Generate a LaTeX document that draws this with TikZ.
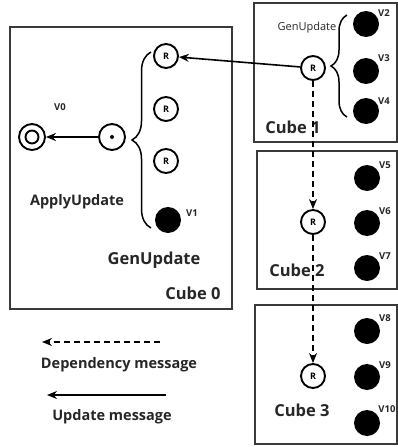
\documentclass[tikz,border=0pt]{standalone}
\usepackage{fontspec}
\setmainfont{Open Sans}
\usetikzlibrary{arrows.meta,decorations.pathreplacing}
\definecolor{boxgray}{HTML}{3A3A3A}
\definecolor{txt}{HTML}{262626}
\begin{document}
\begin{tikzpicture}[x=1pt,y=-1pt,
  cube/.style={draw=boxgray, line width=1.5pt},
  rnode/.style={circle, draw, line width=1.9pt, minimum size=24pt, inner sep=0pt, font=\bfseries\fontsize{9}{9}\selectfont},
  ocirc/.style={circle, draw, line width=1.9pt, minimum size=26pt, inner sep=0pt},
  vnode/.style={circle, fill=black, minimum size=26pt, inner sep=0pt},
  vlab/.style={text=txt, font=\bfseries\fontsize{9.5}{9.5}\selectfont, inner sep=0pt},
  big/.style={text=txt, font=\bfseries\fontsize{16.5}{16.5}\selectfont, inner sep=0pt},
  mid/.style={text=txt, font=\bfseries\fontsize{14.5}{14.5}\selectfont, inner sep=0pt},
  msg/.style={line width=1.6pt, -{Stealth[length=10pt,width=8pt]}},
  dep/.style={line width=1.4pt, dash pattern=on 6pt off 4pt, -{Stealth[length=10pt,width=8pt]}},
  brc/.style={line width=1.5pt, decorate, decoration={brace, amplitude=#1}}
]
\useasboundingbox (0,0) rectangle (398,447);
% boxes
\draw[cube] (10,27) rectangle (232,309);
\draw[cube] (254,3) rectangle (397,142);
\draw[cube] (257,151) rectangle (397,289);
\draw[cube] (255,305) rectangle (397,444);

% Cube 0
\node[ocirc] (v0) at (32,137) {};
\node[circle, draw, line width=1.9pt, minimum size=13pt, inner sep=0pt] (v0in) at (v0.center) {};
\node[vlab] (v0l) at (60,107) {V0};
\node[ocirc] (dot) at (112,137) {};
\node[circle, fill=black, minimum size=4pt, inner sep=0pt] (dotc) at (dot.center) {};
\draw[brc=19pt] (151,228) -- (151,52);
\node[rnode] (r0a) at (166,56) {R};
\node[rnode] (r0b) at (166,109) {R};
\node[rnode] (r0c) at (166,161) {R};
\node[vnode] (v1) at (168,220) {};
\node[vlab] (v1l) at (192,213) {V1};
\node[mid] (apply) at (77,202) {ApplyUpdate};
\node[big] (gen0) at (154,260) {GenUpdate};
\node[big] (c0) at (193,293) {Cube 0};

% Cube 1
\node[rnode] (r1) at (313,68) {R};
\draw[brc=16pt] (347,117) -- (347,15);
\node[vnode] (v2) at (366,24) {};
\node[vnode] (v3) at (366,71) {};
\node[vnode] (v4) at (366,111) {};
\node[vlab] (v2l) at (384,13) {V2};
\node[vlab] (v3l) at (384,58) {V3};
\node[vlab] (v4l) at (384,101) {V4};
\node[text=txt, font=\fontsize{11}{11}\selectfont, inner sep=0pt] (gen1) at (307,28) {GenUpdate};
\node[big] (c1) at (293,127) {Cube 1};

% Cube 2
\node[rnode] (r2) at (313,222) {R};
\node[vnode] (v5) at (367,178) {};
\node[vnode] (v6) at (367,223) {};
\node[vnode] (v7) at (367,268) {};
\node[vlab] (v5l) at (385,165) {V5};
\node[vlab] (v6l) at (385,211) {V6};
\node[vlab] (v7l) at (385,256) {V7};
\node[big] (c2) at (297,270) {Cube 2};

% Cube 3
\node[rnode] (r3) at (313,376) {R};
\node[vnode] (v8) at (367,331) {};
\node[vnode] (v9) at (367,377) {};
\node[vnode] (v10) at (367,423) {};
\node[vlab] (v8l) at (385,318) {V8};
\node[vlab] (v9l) at (385,365) {V9};
\node[vlab] (v10l) at (387,409) {V10};
\node[big] (c3) at (302,410) {Cube 3};

% connectors
\draw[msg] (dot) -- (v0);
\draw[msg] (r1) -- (r0a);
\draw[dep] (r1) -- (r2);
\draw[dep] (r2) -- (r3);

% legend
\coordinate (d1) at (160,342);
\coordinate (d2) at (42,342);
\draw[dep] (d1) -- (d2);
\node[mid] (deptxt) at (119,365) {Dependency message};
\coordinate (u1) at (166,395);
\coordinate (u2) at (47,395);
\draw[msg] (u1) -- (u2);
\node[mid] (updtxt) at (112,417) {Update message};
\end{tikzpicture}
\end{document}
